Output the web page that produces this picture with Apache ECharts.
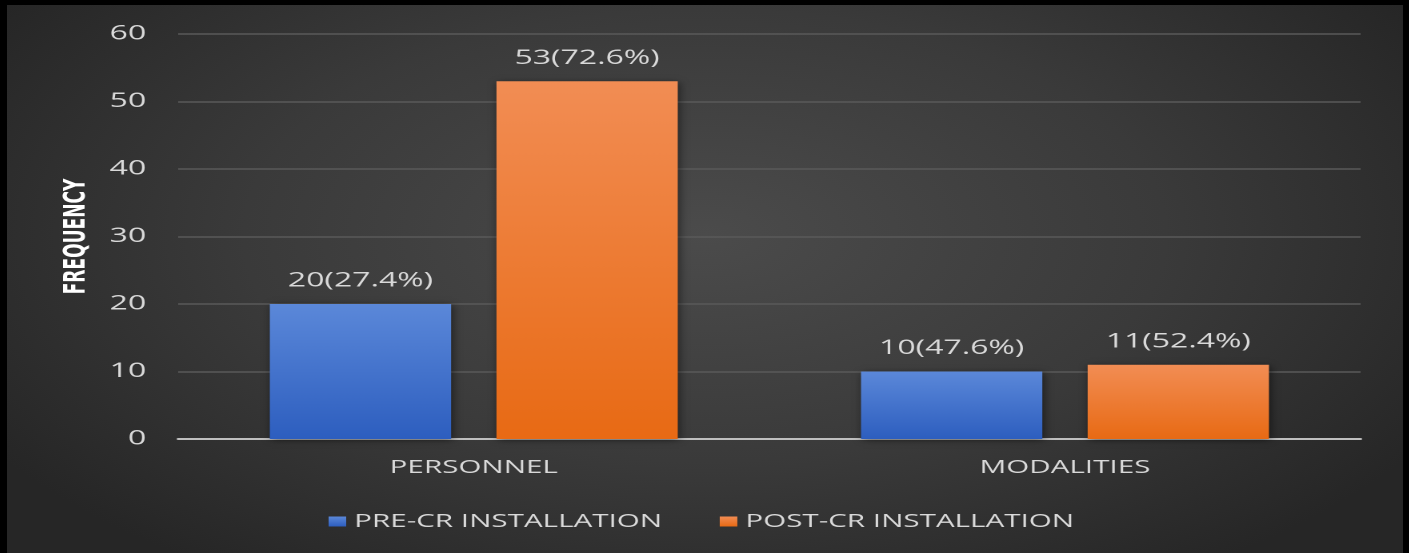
<!DOCTYPE html>
<html>
<head>
<meta charset="utf-8">
<script src="https://cdn.jsdelivr.net/npm/echarts@6/dist/echarts.min.js"></script>
<style>
  html, body { margin: 0; padding: 0; background: #000; width: 1409px; height: 553px; overflow: hidden; }
  #frame {
    position: absolute; left: 7px; top: 5px; width: 1396px; height: 548px; overflow: hidden;
    background: radial-gradient(ellipse 60% 75% at 50% 42%, #4b4b4b 0%, #3a3a3a 55%, #262626 100%);
  }
  /* the reference picture is stretched horizontally; reproduce that stretch */
  #chart {
    position: absolute; left: 0; top: 0; width: 872.5px; height: 548px;
    transform: scaleX(1.6); transform-origin: 0 0;
  }
</style>
</head>
<body>
<div id="frame"><div id="chart"></div></div>
<script>
const categories = ['PERSONNEL', 'MODALITIES'];
const seriesNames = ['PRE-CR INSTALLATION', 'POST-CR INSTALLATION'];
const preValues = [20, 10];
const postValues = [53, 11];
const preLabels = ['20(27.4%)', '10(47.6%)'];
const postLabels = ['53(72.6%)', '11(52.4%)'];
const yTicks = { min: 0, max: 60, interval: 10 };
const yAxisTitle = 'FREQUENCY';

const chart = echarts.init(document.getElementById('chart'), null, { renderer: 'canvas', devicePixelRatio: 2 });

const numFont = { fontFamily: 'Open Sans', fontSize: 20, color: '#d9d9d9' };

function grad(top, bottom) {
  return new echarts.graphic.LinearGradient(0, 0, 0, 1, [
    { offset: 0, color: top }, { offset: 1, color: bottom }
  ]);
}

chart.setOption({
  backgroundColor: 'transparent',
  animation: false,
  grid: { left: 107, right: 27, top: 29, bottom: 114, containLabel: false },
  legend: {
    data: seriesNames,
    left: 196,
    top: 502,
    icon: 'rect',
    itemWidth: 11,
    itemHeight: 10,
    itemGap: 36,
    textStyle: { color: '#d9d9d9', fontFamily: 'Open Sans', fontSize: 18.5 }
  },
  xAxis: {
    type: 'category',
    data: categories,
    axisLine: { show: true, lineStyle: { color: '#bfbfbf', width: 2 } },
    axisTick: { show: false },
    axisLabel: { color: '#d9d9d9', fontFamily: 'Open Sans', fontSize: 18.5, margin: 19 }
  },
  yAxis: {
    type: 'value',
    min: yTicks.min, max: yTicks.max, interval: yTicks.interval,
    name: yAxisTitle,
    nameLocation: 'middle',
    nameRotate: 90,
    nameGap: 50,
    nameTextStyle: { color: '#ffffff', fontFamily: "'Liberation Sans Narrow', 'DejaVu Sans Condensed', sans-serif", fontWeight: 'bold', fontSize: 19 },
    axisLine: { show: false },
    axisTick: { show: false },
    axisLabel: { ...numFont, margin: 20 },
    splitLine: { lineStyle: { color: '#5a5a5a', width: 1.5 } }
  },
  series: [
    {
      name: seriesNames[0],
      type: 'bar',
      data: preValues,
      barGap: '25%',
      barCategoryGap: '31%',
      itemStyle: { color: grad('#5b88d9', '#2d5ebf'), shadowBlur: 6, shadowColor: 'rgba(0,0,0,0.55)', shadowOffsetX: 1, shadowOffsetY: 1 },
      label: { show: true, position: 'top', distance: 13, formatter: p => preLabels[p.dataIndex], ...numFont }
    },
    {
      name: seriesNames[1],
      type: 'bar',
      data: postValues,
      itemStyle: { color: grad('#f28d54', '#e86a14'), shadowBlur: 6, shadowColor: 'rgba(0,0,0,0.55)', shadowOffsetX: 1, shadowOffsetY: 1 },
      label: { show: true, position: 'top', distance: 13, formatter: p => postLabels[p.dataIndex], ...numFont }
    }
  ]
});
</script>
</body>
</html>
